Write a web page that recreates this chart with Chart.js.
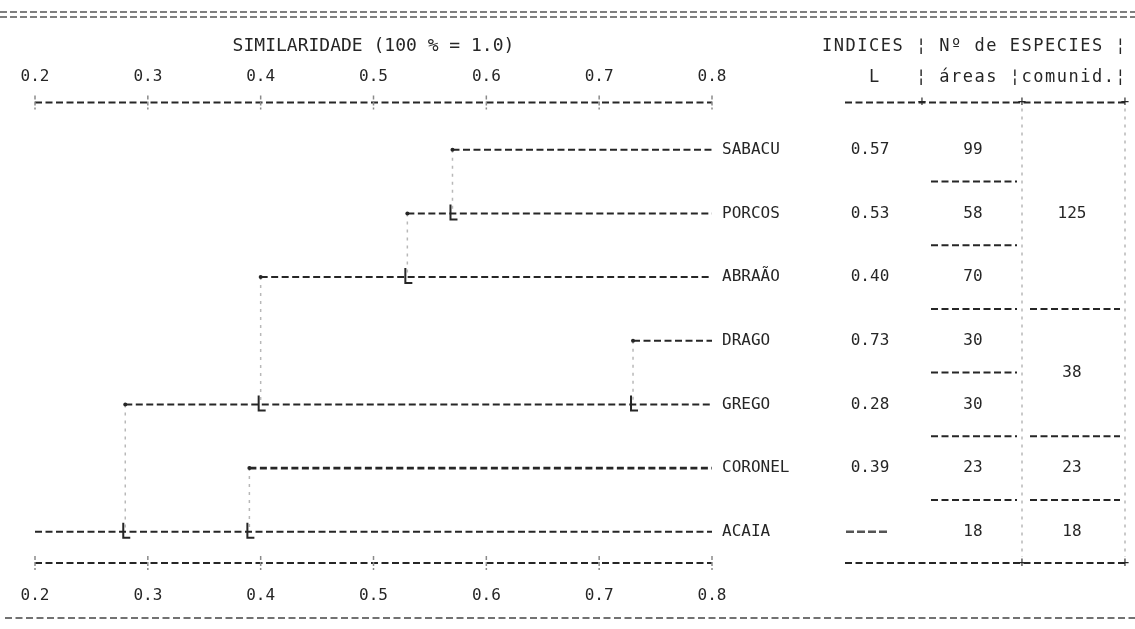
<!DOCTYPE html>
<html>
<head>
<meta charset="utf-8">
<script src="https://cdn.jsdelivr.net/npm/chart.js@4.4.1/dist/chart.umd.min.js"></script>
<style>
  html, body { margin: 0; padding: 0; background: #fff; }
</style>
</head>
<body>
<canvas id="chart" width="1135" height="629"></canvas>
<script>
const leaves = ["SABACU", "PORCOS", "ABRAÃO", "DRAGO", "GREGO", "CORONEL", "ACAIA"]
const similarity = [0.57, 0.53, 0.40, 0.73, 0.28, 0.39, null]
const areaSpecies = [99, 58, 70, 30, 30, 23, 18]
const commonSpecies = [125, 38, 23, 18]
const commonFirstRow = [0, 3, 5, 6]
const commonLastRow = [2, 4, 5, 6]
const scaleTicks = [0.2, 0.3, 0.4, 0.5, 0.6, 0.7, 0.8]
const headerTop = "INDICES ¦ Nº de ESPECIES ¦"
const headerBottom = "    L   ¦ áreas ¦comunid.¦"

const MONO = '"DejaVu Sans Mono", "Liberation Mono", monospace'
const INK = "#262626"
const FAINT = "#b8b8b8"
const DASH = [7, 3.5]

const xMin = scaleTicks[0]
const xMax = scaleTicks[scaleTicks.length - 1]

// horizontal branch for each leaf, from its join level out to the labels
const datasets = []
for (let i = 0; i < leaves.length; i++) {
  const start = similarity[i] === null ? xMin : similarity[i]
  datasets.push({
    data: [{ x: start, y: i }, { x: xMax, y: i }],
    showLine: true,
    borderColor: INK,
    borderWidth: i === 5 ? 2.6 : 2,
    borderDash: DASH,
    pointRadius: [similarity[i] === null ? 0 : 2, 0],
    pointBackgroundColor: INK,
    pointBorderWidth: 0,
  })
}

// vertical links: row i joins the first row below it with a lower level
const joins = []
for (let i = 0; i < leaves.length; i++) {
  if (similarity[i] === null) continue
  let k = i + 1
  while (k < leaves.length && similarity[k] !== null && similarity[k] >= similarity[i]) k++
  joins.push({ x: similarity[i], bottom: k })
  datasets.push({
    data: [{ x: similarity[i], y: i }, { x: similarity[i], y: k }],
    showLine: true,
    borderColor: FAINT,
    borderWidth: 1.5,
    borderDash: [3, 5],
    pointRadius: 0,
  })
}

function dashed(ctx, x0, y0, x1, y1, color, width, dash) {
  ctx.save()
  ctx.strokeStyle = color
  ctx.lineWidth = width
  ctx.setLineDash(dash)
  ctx.beginPath()
  ctx.moveTo(x0, y0)
  ctx.lineTo(x1, y1)
  ctx.stroke()
  ctx.restore()
}

function text(ctx, str, x, y, align, size, color, spacing) {
  ctx.save()
  ctx.font = size + "px " + MONO
  ctx.fillStyle = color || INK
  ctx.textAlign = align
  ctx.textBaseline = "middle"
  if (spacing) ctx.letterSpacing = spacing + "px"
  ctx.fillText(str, x, y)
  ctx.restore()
}

const tablePlugin = {
  id: "tablePlugin",
  afterDraw(chart) {
    const ctx = chart.ctx
    const xs = chart.scales.x
    const ys = chart.scales.y
    const area = chart.chartArea
    const rowY = i => ys.getPixelForValue(i)
    const midY = i => (rowY(i) + rowY(i + 1)) / 2

    // page rules
    dashed(ctx, 0, 12, 1135, 12, "#555", 1.5, [7, 3])
    dashed(ctx, 0, 17, 1135, 17, "#555", 1.5, [7, 3])
    dashed(ctx, 5, 618, 1135, 618, "#444", 1.5, DASH)

    // dashed scale rules with their tick bars, top and bottom
    for (const y of [area.top, area.bottom]) {
      dashed(ctx, xs.left, y, xs.right, y, INK, 2, DASH)
      for (const v of scaleTicks) {
        const px = xs.getPixelForValue(v)
        dashed(ctx, px, y - 7, px, y + 7, "#8a8a8a", 1.5, [4, 2])
      }
    }

    // "L" corners where a link meets the lower branch
    ctx.save()
    ctx.strokeStyle = INK
    ctx.lineWidth = 2
    for (const j of joins) {
      const px = xs.getPixelForValue(j.x)
      const py = rowY(j.bottom)
      ctx.beginPath()
      ctx.moveTo(px - 2, py - 9)
      ctx.lineTo(px - 2, py + 6)
      ctx.lineTo(px + 5, py + 6)
      ctx.stroke()
    }
    ctx.restore()

    // headers
    text(ctx, headerTop, 822, 47, "left", 17, INK, 1.5)
    text(ctx, headerBottom, 822, 78, "left", 17, INK, 1.5)

    // frame lines of the table
    const top = area.top
    const bottom = area.bottom
    dashed(ctx, 845, top, 1125, top, INK, 2, DASH)
    dashed(ctx, 845, bottom, 1125, bottom, INK, 2, DASH)
    for (const px of [922, 1022, 1125]) text(ctx, "+", px, top, "center", 14)
    for (const px of [1022, 1125]) text(ctx, "+", px, bottom, "center", 14)
    dashed(ctx, 1022, top + 6, 1022, bottom - 6, FAINT, 1.5, [3, 5])
    dashed(ctx, 1125, top + 6, 1125, bottom - 6, FAINT, 1.5, [3, 5])

    // row values
    for (let i = 0; i < leaves.length; i++) {
      const py = rowY(i)
      if (similarity[i] === null) {
        dashed(ctx, 846, py, 890, py, "#555", 2.5, [8, 3])
      } else {
        text(ctx, similarity[i].toFixed(2), 870, py, "center", 16)
      }
      text(ctx, String(areaSpecies[i]), 973, py, "center", 16)
      if (i < leaves.length - 1) dashed(ctx, 931, midY(i), 1017, midY(i), INK, 2, DASH)
    }

    // species shared inside each group
    for (let g = 0; g < commonSpecies.length; g++) {
      const py = (rowY(commonFirstRow[g]) + rowY(commonLastRow[g])) / 2
      text(ctx, String(commonSpecies[g]), 1072, py, "center", 16)
      if (commonLastRow[g] < leaves.length - 1) {
        const sy = midY(commonLastRow[g])
        dashed(ctx, 1030, sy, 1120, sy, INK, 2, DASH)
      }
    }
  },
}

const axisTicks = (pos, pad, height) => ({
  type: "linear",
  position: pos,
  min: xMin,
  max: xMax,
  afterBuildTicks: s => { s.ticks = scaleTicks.map(v => ({ value: v })) },
  afterFit: s => { s.height = height },
  ticks: {
    callback: v => v.toFixed(1),
    font: { family: MONO, size: 16 },
    color: INK,
    padding: pad,
    maxRotation: 0,
    autoSkip: false,
  },
  grid: { drawOnChartArea: false, tickLength: 7, color: "rgba(0,0,0,0)" },
  border: { display: false },
})

new Chart(document.getElementById("chart"), {
  type: "scatter",
  data: { datasets: datasets },
  options: {
    responsive: false,
    animation: false,
    devicePixelRatio: 1,
    layout: { padding: { left: 35, right: 0, top: 0, bottom: 0 } },
    plugins: {
      legend: { display: false },
      tooltip: { enabled: false },
      title: {
        display: true,
        text: "SIMILARIDADE (100 % = 1.0)",
        fullSize: false,
        color: INK,
        font: { family: MONO, size: 18, weight: "normal" },
        padding: { top: 36, bottom: 4 },
      },
    },
    scales: {
      x: axisTicks("bottom", 16, 66),
      xTop: axisTicks("top", 9, 41),
      y: {
        type: "linear",
        position: "right",
        min: -0.74,
        max: 6.49,
        reverse: true,
        afterBuildTicks: s => { s.ticks = leaves.map((_, i) => ({ value: i })) },
        afterFit: s => { s.width = 423 },
        ticks: {
          callback: v => leaves[v],
          font: { family: MONO, size: 16 },
          color: INK,
          padding: 10,
          autoSkip: false,
        },
        grid: { display: false, drawTicks: false },
        border: { display: false },
      },
    },
  },
  plugins: [tablePlugin],
})
</script>
</body>
</html>
